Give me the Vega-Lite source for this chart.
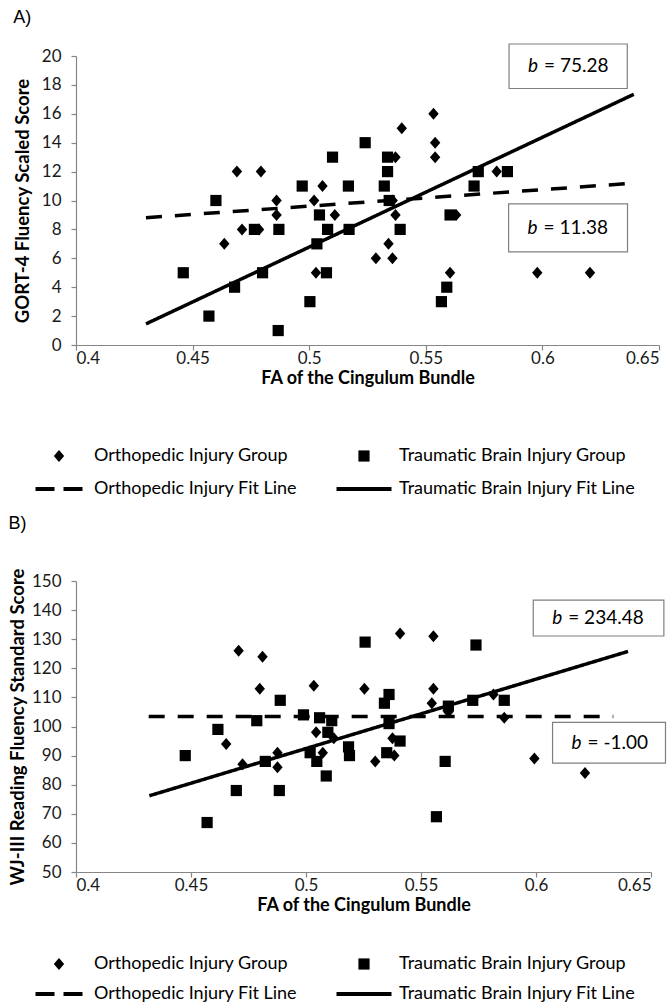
{
 "$schema": "https://vega.github.io/schema/vega-lite/v6.json",
 "padding": {"left": 8, "top": 9, "right": 0, "bottom": 0},
 "background": "white",
 "columns": 1,
 "align": "none",
 "spacing": 16,
 "config": {
  "font": "Lato",
  "view": {"stroke": null},
  "axis": {"grid": false, "labelOverlap": false, "domainColor": "#868686", "domainWidth": 1.2, "tickColor": "#868686", "tickWidth": 1.2, "tickSize": 5, "labelFont": "Lato", "labelFontSize": 17, "labelColor": "#1a1a1a", "titleFont": "Lato", "titleFontSize": 18.5, "titleFontWeight": "bold", "titleColor": "#000000"},
  "axisX": {"labelPadding": 0, "titlePadding": 3, "titleFontSize": 18},
  "axisY": {"labelPadding": 10, "titlePadding": 9},
  "title": {"font": "Liberation Sans", "fontSize": 18, "fontWeight": "normal", "color": "#000000", "anchor": "start", "frame": "bounds"}
 },
 "resolve": {"scale": {"shape": "independent", "strokeDash": "independent"}, "legend": {"shape": "independent"}},
 "datasets": {
  "pa": [
   {"fa": 0.446, "score": 5, "group": "Traumatic Brain Injury Group"},
   {"fa": 0.457, "score": 2, "group": "Traumatic Brain Injury Group"},
   {"fa": 0.460, "score": 10, "group": "Traumatic Brain Injury Group"},
   {"fa": 0.468, "score": 4, "group": "Traumatic Brain Injury Group"},
   {"fa": 0.4765, "score": 8, "group": "Traumatic Brain Injury Group"},
   {"fa": 0.480, "score": 5, "group": "Traumatic Brain Injury Group"},
   {"fa": 0.487, "score": 8, "group": "Traumatic Brain Injury Group"},
   {"fa": 0.4867, "score": 1, "group": "Traumatic Brain Injury Group"},
   {"fa": 0.497, "score": 11, "group": "Traumatic Brain Injury Group"},
   {"fa": 0.5003, "score": 3, "group": "Traumatic Brain Injury Group"},
   {"fa": 0.5033, "score": 7, "group": "Traumatic Brain Injury Group"},
   {"fa": 0.5044, "score": 9, "group": "Traumatic Brain Injury Group"},
   {"fa": 0.5079, "score": 8, "group": "Traumatic Brain Injury Group"},
   {"fa": 0.5074, "score": 5, "group": "Traumatic Brain Injury Group"},
   {"fa": 0.510, "score": 13, "group": "Traumatic Brain Injury Group"},
   {"fa": 0.5168, "score": 11, "group": "Traumatic Brain Injury Group"},
   {"fa": 0.5171, "score": 8, "group": "Traumatic Brain Injury Group"},
   {"fa": 0.524, "score": 14, "group": "Traumatic Brain Injury Group"},
   {"fa": 0.5322, "score": 11, "group": "Traumatic Brain Injury Group"},
   {"fa": 0.5336, "score": 12, "group": "Traumatic Brain Injury Group"},
   {"fa": 0.5336, "score": 13, "group": "Traumatic Brain Injury Group"},
   {"fa": 0.5343, "score": 10, "group": "Traumatic Brain Injury Group"},
   {"fa": 0.539, "score": 8, "group": "Traumatic Brain Injury Group"},
   {"fa": 0.5567, "score": 3, "group": "Traumatic Brain Injury Group"},
   {"fa": 0.559, "score": 4, "group": "Traumatic Brain Injury Group"},
   {"fa": 0.5604, "score": 9, "group": "Traumatic Brain Injury Group"},
   {"fa": 0.5707, "score": 11, "group": "Traumatic Brain Injury Group"},
   {"fa": 0.5725, "score": 12, "group": "Traumatic Brain Injury Group"},
   {"fa": 0.585, "score": 12, "group": "Traumatic Brain Injury Group"},
   {"fa": 0.4636, "score": 7, "group": "Orthopedic Injury Group"},
   {"fa": 0.469, "score": 12, "group": "Orthopedic Injury Group"},
   {"fa": 0.4712, "score": 8, "group": "Orthopedic Injury Group"},
   {"fa": 0.4785, "score": 8, "group": "Orthopedic Injury Group"},
   {"fa": 0.4793, "score": 12, "group": "Orthopedic Injury Group"},
   {"fa": 0.486, "score": 10, "group": "Orthopedic Injury Group"},
   {"fa": 0.486, "score": 9, "group": "Orthopedic Injury Group"},
   {"fa": 0.5021, "score": 10, "group": "Orthopedic Injury Group"},
   {"fa": 0.5029, "score": 5, "group": "Orthopedic Injury Group"},
   {"fa": 0.5057, "score": 11, "group": "Orthopedic Injury Group"},
   {"fa": 0.511, "score": 9, "group": "Orthopedic Injury Group"},
   {"fa": 0.5286, "score": 6, "group": "Orthopedic Injury Group"},
   {"fa": 0.534, "score": 7, "group": "Orthopedic Injury Group"},
   {"fa": 0.5357, "score": 6, "group": "Orthopedic Injury Group"},
   {"fa": 0.537, "score": 9, "group": "Orthopedic Injury Group"},
   {"fa": 0.537, "score": 13, "group": "Orthopedic Injury Group"},
   {"fa": 0.5358, "score": 10, "group": "Orthopedic Injury Group"},
   {"fa": 0.5397, "score": 15, "group": "Orthopedic Injury Group"},
   {"fa": 0.5533, "score": 16, "group": "Orthopedic Injury Group"},
   {"fa": 0.554, "score": 14, "group": "Orthopedic Injury Group"},
   {"fa": 0.554, "score": 13, "group": "Orthopedic Injury Group"},
   {"fa": 0.5604, "score": 5, "group": "Orthopedic Injury Group"},
   {"fa": 0.563, "score": 9, "group": "Orthopedic Injury Group"},
   {"fa": 0.5804, "score": 12, "group": "Orthopedic Injury Group"},
   {"fa": 0.5978, "score": 5, "group": "Orthopedic Injury Group"},
   {"fa": 0.6204, "score": 5, "group": "Orthopedic Injury Group"}
  ],
  "la": [
   {"fa": 0.430, "score": 8.81, "fit": "Orthopedic Injury Fit Line"},
   {"fa": 0.6392, "score": 11.2, "fit": "Orthopedic Injury Fit Line"},
   {"fa": 0.430, "score": 1.46, "fit": "Traumatic Brain Injury Fit Line"},
   {"fa": 0.6392, "score": 17.35, "fit": "Traumatic Brain Injury Fit Line"}
  ],
  "ba": [
   {"fa": 0.5857, "fa2": 0.6364, "score": 17.75, "score2": 20.83},
   {"fa": 0.5855, "fa2": 0.6365, "score": 6.44, "score2": 9.76}
  ],
  "ta": [
   {"fa": 0.5857, "score": 19.29, "label": "= 75.28"},
   {"fa": 0.5855, "score": 8.1, "label": "= 11.38"}
  ],
  "pb": [
   {"fa": 0.4475, "score": 90, "group": "Traumatic Brain Injury Group"},
   {"fa": 0.457, "score": 67, "group": "Traumatic Brain Injury Group"},
   {"fa": 0.4617, "score": 99, "group": "Traumatic Brain Injury Group"},
   {"fa": 0.4697, "score": 78, "group": "Traumatic Brain Injury Group"},
   {"fa": 0.4786, "score": 102, "group": "Traumatic Brain Injury Group"},
   {"fa": 0.4823, "score": 88, "group": "Traumatic Brain Injury Group"},
   {"fa": 0.4888, "score": 109, "group": "Traumatic Brain Injury Group"},
   {"fa": 0.4884, "score": 78, "group": "Traumatic Brain Injury Group"},
   {"fa": 0.4989, "score": 104, "group": "Traumatic Brain Injury Group"},
   {"fa": 0.5018, "score": 91, "group": "Traumatic Brain Injury Group"},
   {"fa": 0.5047, "score": 88, "group": "Traumatic Brain Injury Group"},
   {"fa": 0.5059, "score": 103, "group": "Traumatic Brain Injury Group"},
   {"fa": 0.5095, "score": 98, "group": "Traumatic Brain Injury Group"},
   {"fa": 0.5088, "score": 83, "group": "Traumatic Brain Injury Group"},
   {"fa": 0.5112, "score": 102, "group": "Traumatic Brain Injury Group"},
   {"fa": 0.5185, "score": 93, "group": "Traumatic Brain Injury Group"},
   {"fa": 0.5189, "score": 90, "group": "Traumatic Brain Injury Group"},
   {"fa": 0.5257, "score": 129, "group": "Traumatic Brain Injury Group"},
   {"fa": 0.5341, "score": 108, "group": "Traumatic Brain Injury Group"},
   {"fa": 0.5361, "score": 111, "group": "Traumatic Brain Injury Group"},
   {"fa": 0.5361, "score": 101, "group": "Traumatic Brain Injury Group"},
   {"fa": 0.5351, "score": 91, "group": "Traumatic Brain Injury Group"},
   {"fa": 0.5409, "score": 95, "group": "Traumatic Brain Injury Group"},
   {"fa": 0.5567, "score": 69, "group": "Traumatic Brain Injury Group"},
   {"fa": 0.5605, "score": 88, "group": "Traumatic Brain Injury Group"},
   {"fa": 0.5619, "score": 107, "group": "Traumatic Brain Injury Group"},
   {"fa": 0.5725, "score": 109, "group": "Traumatic Brain Injury Group"},
   {"fa": 0.5739, "score": 128, "group": "Traumatic Brain Injury Group"},
   {"fa": 0.5862, "score": 109, "group": "Traumatic Brain Injury Group"},
   {"fa": 0.4653, "score": 94, "group": "Orthopedic Injury Group"},
   {"fa": 0.4707, "score": 126, "group": "Orthopedic Injury Group"},
   {"fa": 0.4724, "score": 87, "group": "Orthopedic Injury Group"},
   {"fa": 0.4799, "score": 113, "group": "Orthopedic Injury Group"},
   {"fa": 0.4811, "score": 124, "group": "Orthopedic Injury Group"},
   {"fa": 0.4876, "score": 91, "group": "Orthopedic Injury Group"},
   {"fa": 0.4876, "score": 86, "group": "Orthopedic Injury Group"},
   {"fa": 0.5034, "score": 114, "group": "Orthopedic Injury Group"},
   {"fa": 0.5044, "score": 98, "group": "Orthopedic Injury Group"},
   {"fa": 0.5073, "score": 91, "group": "Orthopedic Injury Group"},
   {"fa": 0.5121, "score": 96, "group": "Orthopedic Injury Group"},
   {"fa": 0.5254, "score": 113, "group": "Orthopedic Injury Group"},
   {"fa": 0.5301, "score": 88, "group": "Orthopedic Injury Group"},
   {"fa": 0.5376, "score": 96, "group": "Orthopedic Injury Group"},
   {"fa": 0.5384, "score": 90, "group": "Orthopedic Injury Group"},
   {"fa": 0.5409, "score": 132, "group": "Orthopedic Injury Group"},
   {"fa": 0.5554, "score": 131, "group": "Orthopedic Injury Group"},
   {"fa": 0.5554, "score": 113, "group": "Orthopedic Injury Group"},
   {"fa": 0.5547, "score": 108, "group": "Orthopedic Injury Group"},
   {"fa": 0.5619, "score": 105, "group": "Orthopedic Injury Group"},
   {"fa": 0.5815, "score": 111, "group": "Orthopedic Injury Group"},
   {"fa": 0.5862, "score": 103, "group": "Orthopedic Injury Group"},
   {"fa": 0.5993, "score": 89, "group": "Orthopedic Injury Group"},
   {"fa": 0.6213, "score": 84, "group": "Orthopedic Injury Group"}
  ],
  "lb": [
   {"fa": 0.4316, "score": 103.4, "fit": "Orthopedic Injury Fit Line"},
   {"fa": 0.6336, "score": 103.4, "fit": "Orthopedic Injury Fit Line"},
   {"fa": 0.4319, "score": 76.2, "fit": "Traumatic Brain Injury Fit Line"},
   {"fa": 0.6400, "score": 125.8, "fit": "Traumatic Brain Injury Fit Line"}
  ],
  "bb": [
   {"fa": 0.5988, "fa2": 0.6556, "score": 131.1, "score2": 143.4},
   {"fa": 0.6072, "fa2": 0.6563, "score": 87.4, "score2": 101.4}
  ],
  "tb": [
   {"fa": 0.5988, "score": 137.25, "label": "= 234.48"},
   {"fa": 0.6072, "score": 94.4, "label": "= -1.00"}
  ]
 },
 "concat": [
  {
   "title": {"text": "A)", "offset": 16},
   "width": 583,
   "height": 289,
   "encoding": {
    "x": {"field": "fa", "type": "quantitative", "scale": {"domain": [0.4, 0.65], "nice": false, "zero": false}, "axis": {"title": "FA of the Cingulum Bundle", "values": [0.4, 0.45, 0.5, 0.55, 0.6, 0.65], "format": "~g"}},
    "y": {"field": "score", "type": "quantitative", "scale": {"domain": [0, 20], "nice": false, "zero": false}, "axis": {"title": "GORT-4 Fluency Scaled Score", "values": [0, 2, 4, 6, 8, 10, 12, 14, 16, 18, 20], "tickCount": 11, "labelOverlap": false, "labelBound": false, "titlePadding": 9}}
   },
   "layer": [
    {
     "data": {"name": "la"},
     "mark": {"type": "line", "color": "black", "strokeWidth": 3.5, "strokeCap": "butt"},
     "encoding": {
      "strokeDash": {"field": "fit", "type": "nominal", "scale": {"domain": ["Orthopedic Injury Fit Line", "Traumatic Brain Injury Fit Line"], "range": [[16, 13], [1, 0]]}, "legend": null}
     }
    },
    {
     "data": {"name": "pa"},
     "mark": {"type": "point", "filled": true, "color": "black", "opacity": 1, "size": 400, "strokeWidth": 0},
     "encoding": {
      "shape": {"field": "group", "type": "nominal",
       "scale": {"domain": ["Orthopedic Injury Group", "Traumatic Brain Injury Group", "Orthopedic Injury Fit Line", "Traumatic Brain Injury Fit Line"], "range": ["M0,-0.6L0.52,0L0,0.6L-0.52,0Z", "M-0.56,-0.56H0.56V0.56H-0.56Z", "M-2.35,-0.2H-0.45V0.2H-2.35ZM0.45,-0.2H2.35V0.2H0.45Z", "M-2.75,-0.2H2.75V0.2H-2.75Z"]},
       "legend": {"title": null, "orient": "none", "legendX": -28, "legendY": 389, "direction": "horizontal", "columns": 2, "padding": 0, "symbolSize": 400, "labelOffset": 24, "rowPadding": 13, "columnPadding": 35, "labelFont": "Lato", "labelFontSize": 18, "labelColor": "#000000", "labelLimit": 400,
        "encode": {"symbols": {"update": {"fill": {"value": "black"}, "opacity": {"value": 1}}}}}
      }
     }
    },
    {
     "data": {"name": "ba"},
     "mark": {"type": "rect", "fill": "white", "stroke": "#7f7f7f", "strokeWidth": 1.2},
     "encoding": {"x2": {"field": "fa2"}, "y2": {"field": "score2"}}
    },
    {
     "data": {"name": "ta"},
     "mark": {"type": "text", "text": "b", "align": "left", "baseline": "middle", "dx": 19, "font": "Lato", "fontSize": 19, "fontStyle": "italic", "color": "black"},
     "encoding": {}
    },
    {
     "data": {"name": "ta"},
     "mark": {"type": "text", "align": "left", "baseline": "middle", "dx": 35, "font": "Lato", "fontSize": 19, "color": "black"},
     "encoding": {"text": {"field": "label"}}
    }
   ]
  },
  {
   "title": {"text": "B)", "offset": 35},
   "width": 575,
   "height": 291,
   "encoding": {
    "x": {"field": "fa", "type": "quantitative", "scale": {"domain": [0.4, 0.65], "nice": false, "zero": false}, "axis": {"title": "FA of the Cingulum Bundle", "values": [0.4, 0.45, 0.5, 0.55, 0.6, 0.65], "format": "~g"}},
    "y": {"field": "score", "type": "quantitative", "scale": {"domain": [50, 150], "nice": false, "zero": false}, "axis": {"title": "WJ-III Reading Fluency Standard Score", "values": [50, 60, 70, 80, 90, 100, 110, 120, 130, 140, 150], "tickCount": 11, "labelOverlap": false, "labelBound": false, "titlePadding": 4}}
   },
   "layer": [
    {
     "data": {"name": "lb"},
     "mark": {"type": "line", "color": "black", "strokeWidth": 3.5, "strokeCap": "butt"},
     "encoding": {
      "strokeDash": {"field": "fit", "type": "nominal", "scale": {"domain": ["Orthopedic Injury Fit Line", "Traumatic Brain Injury Fit Line"], "range": [[16, 13], [1, 0]]}, "legend": null}
     }
    },
    {
     "data": {"name": "pb"},
     "mark": {"type": "point", "filled": true, "color": "black", "opacity": 1, "size": 400, "strokeWidth": 0},
     "encoding": {
      "shape": {"field": "group", "type": "nominal",
       "scale": {"domain": ["Orthopedic Injury Group", "Traumatic Brain Injury Group", "Orthopedic Injury Fit Line", "Traumatic Brain Injury Fit Line"], "range": ["M0,-0.6L0.52,0L0,0.6L-0.52,0Z", "M-0.56,-0.56H0.56V0.56H-0.56Z", "M-2.35,-0.2H-0.45V0.2H-2.35ZM0.45,-0.2H2.35V0.2H0.45Z", "M-2.75,-0.2H2.75V0.2H-2.75Z"]},
       "legend": {"title": null, "orient": "none", "legendX": -28, "legendY": 372, "direction": "horizontal", "columns": 2, "padding": 0, "symbolSize": 400, "labelOffset": 24, "rowPadding": 10, "columnPadding": 35, "labelFont": "Lato", "labelFontSize": 18, "labelColor": "#000000", "labelLimit": 400,
        "encode": {"symbols": {"update": {"fill": {"value": "black"}, "opacity": {"value": 1}}}}}
      }
     }
    },
    {
     "data": {"name": "bb"},
     "mark": {"type": "rect", "fill": "white", "stroke": "#7f7f7f", "strokeWidth": 1.2},
     "encoding": {"x2": {"field": "fa2"}, "y2": {"field": "score2"}}
    },
    {
     "data": {"name": "tb"},
     "mark": {"type": "text", "text": "b", "align": "left", "baseline": "middle", "dx": 19, "font": "Lato", "fontSize": 19, "fontStyle": "italic", "color": "black"},
     "encoding": {}
    },
    {
     "data": {"name": "tb"},
     "mark": {"type": "text", "align": "left", "baseline": "middle", "dx": 35, "font": "Lato", "fontSize": 19, "color": "black"},
     "encoding": {"text": {"field": "label"}}
    }
   ]
  }
 ]
}
